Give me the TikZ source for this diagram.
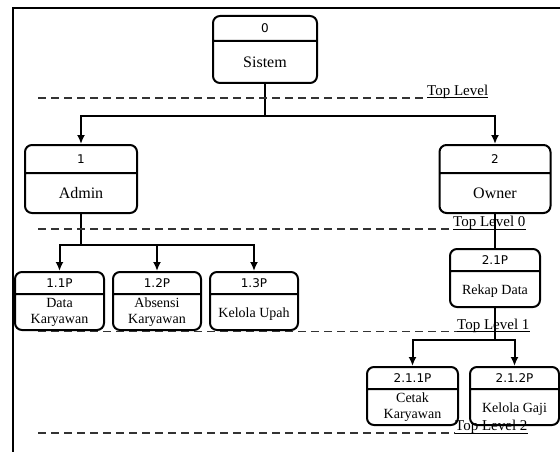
\documentclass[tikz,border=0pt]{standalone}
\usepackage{fontspec}
\setmainfont{Liberation Serif}
\newfontfamily\numfont{DejaVu Sans}
\usepackage{tikz}
\usetikzlibrary{shapes,arrows.meta,positioning,calc}

% invisible strut: height above / depth below the baseline
\newcommand{\hd}[2]{\rule[-#2pt]{0pt}{\dimexpr#1pt+#2pt\relax}}
\newcommand{\pnum}[1]{{\numfont\fontsize{12pt}{14pt}\selectfont #1}}

\begin{document}
\begin{tikzpicture}[
    x=1pt, y=1pt,
    proc/.style={rectangle split, rectangle split parts=2, draw, line width=2pt, rounded corners=7pt, align=center, inner xsep=1pt, inner ysep=0pt, font=\fontsize{14pt}{16pt}\selectfont},
    bigproc/.style={proc, font=\fontsize{16pt}{18pt}\selectfont},
    line/.style={line width=2pt},
    arrow/.style={line, -{Latex[length=9pt,width=8pt]}},
    level/.style={dash pattern=on 8pt off 5pt, line width=1.5pt, black!80},
    lvl/.style={inner sep=0pt, font=\fontsize{15pt}{17pt}\selectfont},
    uline/.style={line width=1pt}
]
    \useasboundingbox (0,0) rectangle (560,-452);

    % frame
    \draw[line width=1.5pt] (13,-452) -- (13,-8) -- (560,-8);

    % Level 0
    \node[bigproc, minimum width=104pt, anchor=north] (sistem) at (265,-15)
        {\hd{16}{7}\pnum{0}\nodepart{two}\hd{25}{15}Sistem};

    % Level 1
    \node[bigproc, minimum width=112pt, anchor=north] (admin) at (81,-144)
        {\hd{17}{9}\pnum{1}\nodepart{two}\hd{24}{14}Admin};
    \node[bigproc, minimum width=111pt, anchor=north] (owner) at (495,-144)
        {\hd{17}{9}\pnum{2}\nodepart{two}\hd{24}{14}Owner};

    % Admin processes
    \node[proc, minimum width=89pt, anchor=north] (data) at (59.5,-271)
        {\hd{14}{6}\pnum{1.1P}\nodepart{two}\hd{12}{0}Data\\Karyawan\hd{0}{6}};
    \node[proc, minimum width=88pt, right=7pt of data] (absensi)
        {\hd{14}{6}\pnum{1.2P}\nodepart{two}\hd{12}{0}Absensi\\Karyawan\hd{0}{6}};
    \node[proc, minimum width=88pt, right=7pt of absensi] (kelola)
        {\hd{14}{6}\pnum{1.3P}\nodepart{two}\hd{22}{12}Kelola Upah};

    % Owner processes
    \node[proc, minimum width=90pt, anchor=north] (rekap) at (495,-248)
        {\hd{14}{6}\pnum{2.1P}\nodepart{two}\hd{22}{12}Rekap Data};
    \node[proc, minimum width=91pt, anchor=north] (cetak) at (412.5,-366)
        {\hd{14}{6}\pnum{2.1.1P}\nodepart{two}\hd{12}{0}Cetak\\Karyawan\hd{0}{6}};
    \node[proc, minimum width=89pt, right=10pt of cetak] (gaji)
        {\hd{14}{6}\pnum{2.1.2P}\nodepart{two}\hd{22}{12}Kelola Gaji};

    % Connectors
    \coordinate (split0) at (265,-116);
    \draw[line] (sistem.south) -- (split0);
    \draw[arrow] (split0) -| (admin.north);
    \draw[arrow] (split0) -| (owner.north);

    \coordinate (split1) at (81,-245);
    \draw[line] (admin.south) -- (split1);
    \foreach \n in {data,absensi,kelola}
        \draw[arrow] (split1) -| (\n.north);

    \draw[line] (owner.south) -- (rekap.north);
    \coordinate (split2) at (495,-340);
    \draw[line] (rekap.south) -- (split2);
    \draw[arrow] (split2) -| (cetak.north);
    \draw[arrow] (split2) -| (gaji.north);

    % Level separators
    \node[lvl, anchor=base west] (lvtop) at (427,-95.5) {Top Level};
    \draw[level] (38,-98) -- (427,-98);
    \draw[uline] ([yshift=-2.5pt]lvtop.base west) -- ([yshift=-2.5pt]lvtop.base east);

    \node[lvl, anchor=base west] (lvzero) at (453,-226.5) {Top Level 0};
    \draw[level] (38,-229) -- (453,-229);
    \draw[uline] ([yshift=-2.5pt]lvzero.base west) -- ([yshift=-2.5pt]lvzero.base east);

    \node[lvl, anchor=base west] (lvone) at (457,-329) {Top Level 1};
    \draw[level] (38,-331.5) -- (457,-331.5);
    \draw[uline] ([yshift=-2.5pt]lvone.base west) -- ([yshift=-2.5pt]lvone.base east);

    \node[lvl, anchor=base west] (lvtwo) at (455,-430.5) {Top Level 2};
    \draw[level] (38,-433) -- (455,-433);
    \draw[uline] ([yshift=-2.5pt]lvtwo.base west) -- ([yshift=-2.5pt]lvtwo.base east);
\end{tikzpicture}
\end{document}
